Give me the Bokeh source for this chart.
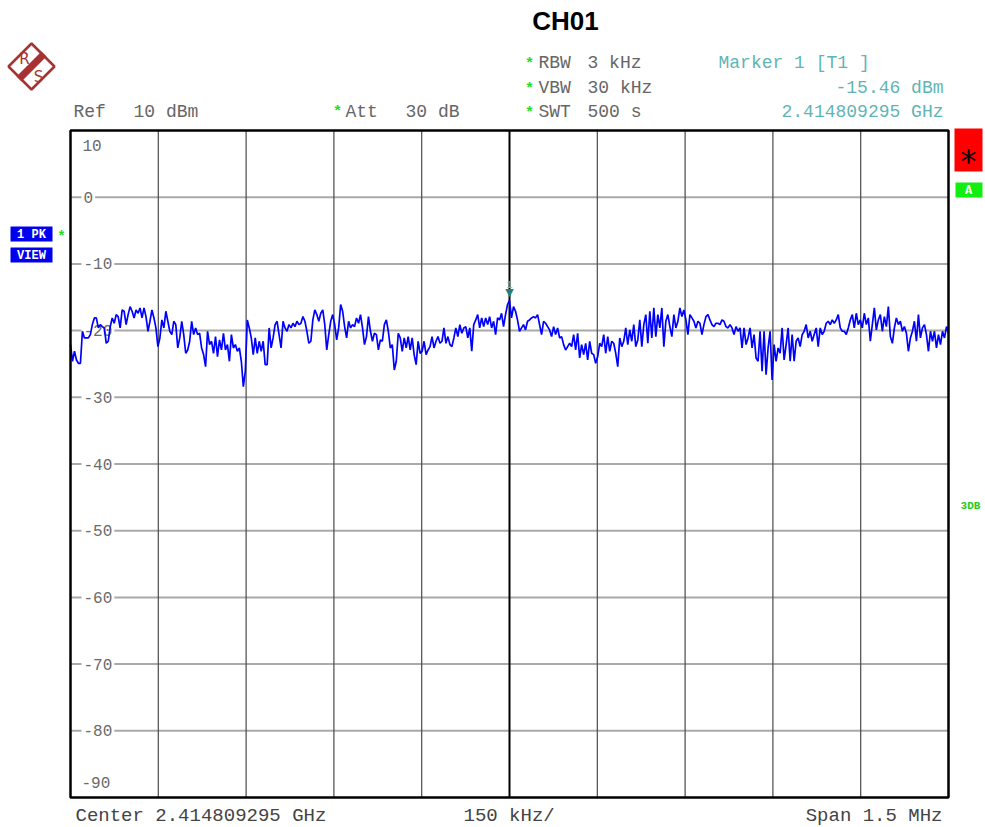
from bokeh.plotting import figure
from bokeh.models import Range1d
from bokeh.core.properties import value
from bokeh.embed import file_html
from bokeh.resources import INLINE
import numpy as np

# ---------------- data ----------------
title_text = "CH01"
center_freq = "2.414809295 GHz"
span_text = "1.5 MHz"
div_text = "150 kHz/"
ref_level = "10 dBm"
att_text = "30 dB"
rbw_text = "3 kHz"
vbw_text = "30 kHz"
swt_text = "500 s"
marker_level = -15.46
marker_freq = "2.414809295 GHz"

y_ticks = [10, 0, -10, -20, -30, -40, -50, -60, -70, -80, -90]
y_tick_labels = ["10", "0", "-10", "-20", "-30", "-40", "-50", "-60", "-70", "-80", "-90"]
x_div_khz = [-750, -600, -450, -300, -150, 0, 150, 300, 450, 600, 750]

# trace, left half of the span (dBm)
trace_left = [
    -22.1, -24.6, -23.1, -24.4, -24.9, -24.9, -20.1, -21.1, -21.1, -21.1,
    -20.6, -19.1, -18.1, -18.1, -19.6, -19.1, -19.4, -19.6, -21.9, -21.6,
    -19.4, -18.1, -18.9, -17.6, -17.9, -19.6, -16.9, -17.1, -19.1, -17.6,
    -16.4, -17.1, -18.1, -16.9, -17.4, -16.6, -18.1, -16.6, -17.9, -20.1,
    -18.6, -16.9, -18.1, -19.6, -22.4, -21.1, -18.4, -19.6, -17.1, -18.6,
    -20.1, -20.6, -18.6, -19.1, -22.6, -21.1, -18.6, -20.6, -23.4, -22.9,
    -21.6, -18.6, -20.6, -19.6, -20.6, -20.4, -22.6, -23.6, -25.4, -20.1,
    -22.1, -21.6, -23.4, -20.9, -23.9, -21.4, -22.9, -20.4, -22.9, -22.1,
    -24.6, -20.6, -22.6, -22.1, -23.1, -22.6, -24.6, -28.4, -26.1, -18.4,
    -19.6, -21.1, -23.6, -21.1, -23.4, -21.6, -23.1, -21.6, -25.1, -25.1,
    -19.6, -22.6, -21.1, -19.1, -18.6, -20.6, -22.6, -18.6, -19.6, -20.1, -19.1,
    -19.6, -18.9, -19.4, -18.6, -19.1, -18.9, -17.9, -18.6, -20.1, -21.9,
    -21.6, -18.4, -16.9, -17.6, -18.6, -17.4, -16.9, -19.1, -22.9, -20.6,
    -18.6, -17.6, -19.1, -21.4, -19.6, -16.1, -17.1, -19.4, -21.1, -18.6,
    -19.6, -19.1, -19.4, -18.1, -18.9, -17.6, -19.6, -22.1, -20.9, -17.9,
    -20.1, -21.6, -20.4, -20.6, -22.9, -21.4, -21.6, -19.1, -18.4, -20.1,
    -22.6, -22.1, -25.9, -24.6, -20.4, -21.1, -23.1, -21.1, -22.6, -20.9,
    -22.9, -21.1, -23.6, -25.1, -21.6, -23.4, -23.1, -21.6, -23.6, -22.9,
    -22.4, -20.9, -22.6, -21.6, -20.9, -21.9, -21.6, -19.6, -21.9, -20.9,
    -22.1, -22.4, -21.1, -19.6, -20.9, -19.1, -20.4, -19.6, -19.4, -21.1,
    -19.6, -23.1, -19.1, -18.4, -17.6, -19.6, -18.1, -19.4, -18.1, -19.1,
    -17.9, -19.6, -18.6, -20.6, -18.1, -18.4, -17.4, -19.4, -17.6, -16.1,
]
# trace, right half of the span (dBm), starting at the marker
trace_right = [
    -15.46, -18.1, -16.4, -17.1, -18.4, -20.1, -19.6, -19.1, -19.9, -18.6,
    -18.4, -18.1, -17.9, -18.1, -17.6, -19.1, -20.6, -18.6, -18.9, -19.4,
    -19.9, -20.9, -19.4, -20.6, -19.6, -21.1, -20.9, -22.1, -22.9, -22.4,
    -21.9, -22.4, -20.6, -22.9, -20.4, -24.1, -22.1, -23.6, -21.9, -24.4,
    -21.6, -23.4, -23.6, -24.9, -23.9, -21.9, -22.4, -20.6, -23.4, -20.9,
    -23.1, -21.6, -21.9, -23.4, -25.4, -21.1, -22.4, -21.6, -19.6, -22.1,
    -19.9, -21.6, -19.1, -22.4, -21.4, -18.4, -22.4, -19.1, -17.6, -21.9,
    -17.1, -21.1, -16.6, -20.9, -17.6, -19.6, -16.6, -22.4, -18.6, -17.6,
    -19.4, -20.9, -17.6, -19.6, -18.6, -16.6, -17.9, -16.9, -18.4, -20.6,
    -17.6, -18.1, -18.6, -19.6, -18.6, -18.9, -20.6, -19.1, -17.9, -17.6,
    -18.4, -19.1, -19.4, -18.9, -18.9, -19.1, -18.4, -18.6, -19.4, -19.6,
    -19.1, -19.6, -20.6, -19.4, -20.1, -19.6, -22.6, -19.6, -22.1, -21.1,
    -19.6, -22.6, -20.6, -24.1, -24.6, -20.1, -26.1, -20.1, -26.6, -22.6,
    -20.1, -27.4, -22.1, -24.6, -22.6, -23.4, -19.6, -24.4, -22.1, -19.6,
    -24.6, -20.6, -24.6, -21.6, -21.1, -22.4, -20.6, -20.1, -19.1, -21.1,
    -20.1, -21.6, -20.6, -19.6, -22.4, -19.6, -20.6, -20.1, -18.9, -18.6,
    -19.1, -18.4, -18.9, -18.4, -17.6, -19.6, -20.1, -20.1, -20.6, -19.6,
    -18.4, -17.6, -19.6, -17.4, -19.1, -18.4, -19.6, -17.4, -19.1, -18.1,
    -21.6, -19.1, -16.6, -19.9, -18.4, -17.6, -20.1, -17.9, -19.4, -16.4,
    -20.9, -21.9, -19.6, -18.1, -19.1, -18.6, -20.1, -19.4, -20.4, -23.1,
    -21.1, -20.1, -18.6, -21.6, -17.6, -21.1, -19.6, -19.1, -20.6, -23.1,
    -20.1, -21.6, -20.1, -22.6, -20.6, -22.1, -20.1, -21.1, -19.4, -20.4,
]

# ---------------- layout (pixels) ----------------
W, H = 985, 827
FL, FR, FT, FB = 70, 948, 130, 797     # spectrum display area in pixels

x0, x1 = x_div_khz[0], x_div_khz[-1]
yb, yt = y_ticks[-1], y_ticks[0]
KX = (x1 - x0) / (FR - FL)
KY = (yt - yb) / (FB - FT)


def fx(px):
    return x0 + (px - FL) * KX


def fy(py):
    return yt - (py - FT) * KY


p = figure(width=W, height=H, output_backend="svg", toolbar_location=None,
           x_range=Range1d(fx(0), fx(W)), y_range=Range1d(fy(H), fy(0)),
           min_border=0, min_border_left=0, min_border_right=0, min_border_top=0, min_border_bottom=0)
p.xaxis.visible = False
p.yaxis.visible = False
p.grid.visible = False
p.outline_line_color = None
p.background_fill_color = "white"
p.border_fill_color = "white"

MONO = "Liberation Mono"

# grid
hy = y_ticks[1:-1]
p.segment(x0=[x0] * len(hy), y0=hy, x1=[x1] * len(hy), y1=hy, line_color="#a9a9a9", line_width=2)
vx = [d for d in x_div_khz[1:-1] if d != 0]
p.segment(x0=vx, y0=[yb] * len(vx), x1=vx, y1=[yt] * len(vx), line_color="#4a4a4a", line_width=1.2)
p.segment(x0=[0], y0=[yb], x1=[0], y1=[yt], line_color="black", line_width=2)

# y tick labels inside the display
mid_v = y_ticks[1:-1]
mid_t = y_tick_labels[1:-1]
p.text(x=[x0] * len(mid_v), y=mid_v, text=mid_t, x_offset=11, text_align="left", text_baseline="middle",
       text_font=value(MONO), text_font_size="16px", text_color="#6a6a6a",
       background_fill_color="white", padding=2)
p.text(x=[x0], y=[y_ticks[0]], text=[y_tick_labels[0]], x_offset=12, y_offset=15,
       text_align="left", text_baseline="middle", text_font=value(MONO), text_font_size="16px",
       text_color="#6a6a6a")
p.text(x=[x0], y=[y_ticks[-1]], text=[y_tick_labels[-1]], x_offset=11, y_offset=-15,
       text_align="left", text_baseline="middle", text_font=value(MONO), text_font_size="16px",
       text_color="#6a6a6a")

# trace
x_left = np.linspace(x0, 0, len(trace_left), endpoint=False)
x_right = np.linspace(0, x1, len(trace_right))
p.line(np.concatenate([x_left, x_right]), trace_left + trace_right, line_color="#0000ff", line_width=1.7)

# marker
p.text(x=[0], y=[marker_level], text=["\u25BC"], y_offset=-1, text_align="center", text_baseline="bottom",
       text_font=value("DejaVu Sans"), text_font_size="11px", text_color="#1f8080")
p.text(x=[0], y=[marker_level], text=["1"], y_offset=-12, text_align="center", text_baseline="bottom",
       text_font=value(MONO), text_font_size="10px", text_color="#6cbcbc")

# frame
p.quad(left=[x0], right=[x1], bottom=[yb], top=[yt], fill_color=None, line_color="black", line_width=2.5)


def txt(px, py, s, size, color, font=MONO, align="left", baseline="middle", style="normal"):
    p.text(x=[fx(px)], y=[fy(py)], text=[s], text_font=value(font), text_font_size=f"{size}px",
           text_color=color, text_align=align, text_baseline=baseline, text_font_style=style)


def box(l, t, r, b, fill, line=None, lw=0):
    p.quad(left=[fx(l)], right=[fx(r)], top=[fy(t)], bottom=[fy(b)], fill_color=fill,
           line_color=line, line_width=lw)


def poly(pts, fill, line=None, lw=0):
    p.patch([fx(a) for a, b in pts], [fy(b) for a, b in pts], fill_color=fill,
            line_color=line, line_width=lw)


# title
txt(565, 20, title_text, 26, "black", font="Liberation Sans", align="center", style="bold")

# R&S logo
logo = "#a83232"
poly([(8, 66), (31, 43), (54, 66), (31, 89)], "white", logo, 2.5)
poly([(16, 76), (41, 51), (46, 56), (21, 81)], logo)
txt(24, 58, "R", 15, logo, font="DejaVu Sans", align="center")
txt(38, 76, "S", 15, logo, font="DejaVu Sans", align="center")

# header
GRAY = "#666666"
GREEN = "#22dd22"
TEAL = "#5fb5b5"
HS = 18
txt(73, 111, "Ref", HS, GRAY)
txt(133, 111, ref_level, HS, GRAY)
txt(337, 112, "*", 15, GREEN, align="center", style="bold")
txt(345, 111, "Att", HS, GRAY)
txt(405, 111, att_text, HS, GRAY)
txt(529, 64, "*", 15, GREEN, align="center", style="bold")
txt(529, 89, "*", 15, GREEN, align="center", style="bold")
txt(529, 113, "*", 15, GREEN, align="center", style="bold")
txt(538, 62, "RBW", HS, GRAY)
txt(587, 62, rbw_text, HS, GRAY)
txt(538, 87, "VBW", HS, GRAY)
txt(587, 87, vbw_text, HS, GRAY)
txt(538, 111, "SWT", HS, GRAY)
txt(587, 111, swt_text, HS, GRAY)
txt(718, 62, "Marker 1 [T1 ]", HS, TEAL)
txt(943, 87, f"{marker_level:.2f} dBm", HS, TEAL, align="right")
txt(943, 111, marker_freq, HS, TEAL, align="right")

# left trace boxes
box(10, 226, 52, 241, "#0000ee")
box(10, 247, 52, 262, "#0000ee")
txt(31, 234, "1 PK", 12, "white", align="center", style="bold")
txt(31, 255, "VIEW", 12, "white", align="center", style="bold")
txt(61, 236, "*", 14, GREEN, align="center", style="bold")

# right side boxes
box(954, 128, 982, 171, "#ff0000")
txt(968, 160, "*", 32, "black", align="center", font="DejaVu Sans")
box(955, 182, 982, 197, "#11ee11")
txt(968, 190, "A", 12, "white", align="center", style="bold")
txt(970, 505, "3DB", 11, "#22cc22", align="center", style="bold")

# footer
FOOT = "#444444"
FS = 19
txt(75, 815, f"Center {center_freq}", FS, FOOT)
txt(463, 815, div_text, FS, FOOT)
txt(942, 815, f"Span {span_text}", FS, FOOT, align="right")

open("out.html", "w").write(file_html(p, INLINE))
